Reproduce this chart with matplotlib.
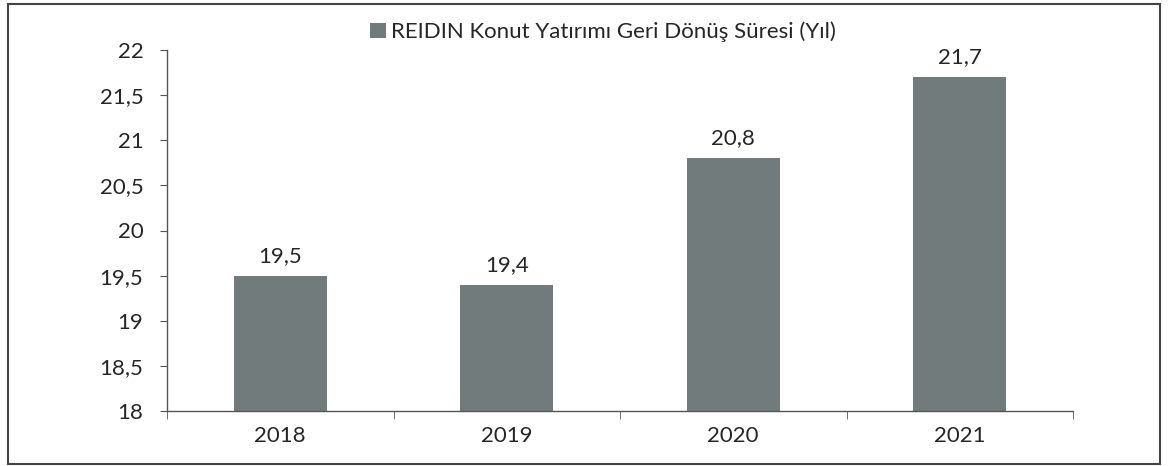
import matplotlib.pyplot as plt
from matplotlib.patches import Rectangle, Patch

years = ["2018", "2019", "2020", "2021"]
values = [19.5, 19.4, 20.8, 21.7]
yticks = [18, 18.5, 19, 19.5, 20, 20.5, 21, 21.5, 22]
series_name = "REIDIN Konut Yatırımı Geri Dönüş Süresi (Yıl)"

bar_color = "#717b7b"
text_color = "#262626"

plt.rcParams["font.family"] = ["Lato", "DejaVu Sans"]

fig = plt.figure(figsize=(11.7, 4.66), dpi=100)
ax = fig.add_axes([167 / 1170, 1 - 411 / 466, (1073 - 167) / 1170, (411 - 50) / 466])

x = list(range(len(years)))
ax.bar(x, values, width=0.41, color=bar_color, zorder=2)

for xi, v in zip(x, values):
    ax.text(xi, v + 0.11, f"{v:.1f}".replace(".", ","), ha="center", va="bottom",
            fontsize=16, color=text_color)

ax.set_xlim(-0.5, len(years) - 0.5)
ax.set_ylim(18, 22)
ax.set_yticks(yticks)
ax.set_yticklabels([f"{t:g}".replace(".", ",") for t in yticks])
ax.set_xticks(x)
ax.set_xticklabels(years)
ax.set_xticks([i - 0.5 for i in range(len(years) + 1)], minor=True)

ax.tick_params(axis="x", which="major", length=0, pad=11, labelsize=16, colors=text_color)
ax.tick_params(axis="x", which="minor", length=6, direction="out", color="#555555")
ax.tick_params(axis="y", length=5, direction="out", pad=12, labelsize=16,
               color="#555555", labelcolor=text_color)

for side in ["top", "right"]:
    ax.spines[side].set_visible(False)
for side in ["left", "bottom"]:
    ax.spines[side].set_color("#555555")
    ax.spines[side].set_linewidth(1.0)

fig.legend(handles=[Patch(facecolor=bar_color, label=series_name)],
           loc="center", bbox_to_anchor=(603 / 1170, 1 - 32 / 466), frameon=False,
           fontsize=16, handlelength=0.7, handleheight=0.7, handletextpad=0.25,
           labelcolor=text_color)

# outer frame around the whole chart
fig.patches.append(Rectangle((8 / 1170, 2 / 466), 1152 / 1170, 460 / 466,
                             transform=fig.transFigure, fill=False,
                             edgecolor="#444444", linewidth=1.5))

fig.savefig("out.png", dpi=100)
